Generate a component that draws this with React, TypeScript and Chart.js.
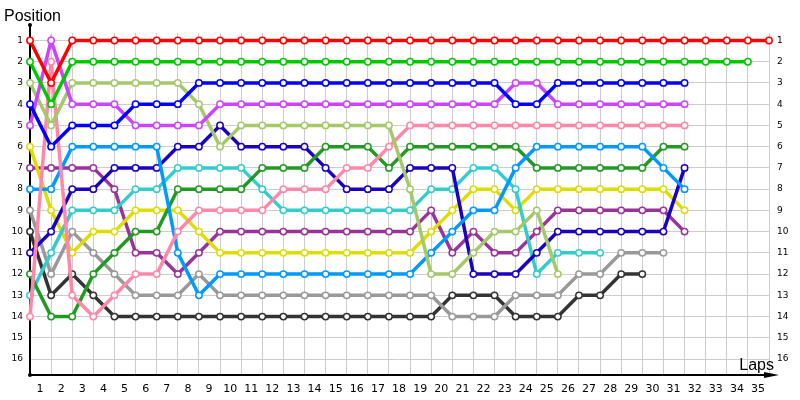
import React, { useEffect, useRef } from "react";
import { Chart, registerables } from "chart.js";

Chart.register(...registerables);

const lapTicks = [0, 1, 2, 3, 4, 5, 6, 7, 8, 9, 10, 11, 12, 13, 14, 15, 16, 17, 18, 19, 20, 21, 22, 23, 24, 25, 26, 27, 28, 29, 30, 31, 32, 33, 34, 35];
const positionTicks = [1, 2, 3, 4, 5, 6, 7, 8, 9, 10, 11, 12, 13, 14, 15, 16];

// positions per lap, starting at lap 0 (grid)
const redPos = [1, 3, 1, 1, 1, 1, 1, 1, 1, 1, 1, 1, 1, 1, 1, 1, 1, 1, 1, 1, 1, 1, 1, 1, 1, 1, 1, 1, 1, 1, 1, 1, 1, 1, 1, 1];
const greenPos = [2, 4, 2, 2, 2, 2, 2, 2, 2, 2, 2, 2, 2, 2, 2, 2, 2, 2, 2, 2, 2, 2, 2, 2, 2, 2, 2, 2, 2, 2, 2, 2, 2, 2, 2];
const bluePos = [4, 6, 5, 5, 5, 4, 4, 4, 3, 3, 3, 3, 3, 3, 3, 3, 3, 3, 3, 3, 3, 3, 3, 4, 4, 3, 3, 3, 3, 3, 3, 3];
const violetPos = [5, 1, 4, 4, 4, 5, 5, 5, 5, 4, 4, 4, 4, 4, 4, 4, 4, 4, 4, 4, 4, 4, 4, 3, 3, 4, 4, 4, 4, 4, 4, 4];
const limePos = [3, 5, 3, 3, 3, 3, 3, 3, 4, 6, 5, 5, 5, 5, 5, 5, 5, 5, 8, 12, 12, 11, 10, 10, 9, 12];
const pinkPos = [14, 2, 13, 14, 13, 12, 12, 10, 9, 9, 9, 9, 8, 8, 8, 7, 7, 6, 5, 5, 5, 5, 5, 5, 5, 5, 5, 5, 5, 5, 5, 5];
const azurePos = [8, 8, 6, 6, 6, 6, 6, 11, 13, 12, 12, 12, 12, 12, 12, 12, 12, 12, 12, 11, 10, 9, 9, 7, 6, 6, 6, 6, 6, 6, 7, 8];
const darkGreenPos = [12, 14, 14, 12, 11, 10, 10, 8, 8, 8, 8, 7, 7, 7, 6, 6, 6, 7, 6, 6, 6, 6, 6, 6, 7, 7, 7, 7, 7, 7, 6, 6];
const navyPos = [11, 10, 8, 8, 7, 7, 7, 6, 6, 5, 6, 6, 6, 6, 7, 8, 8, 8, 7, 7, 7, 12, 12, 12, 11, 10, 10, 10, 10, 10, 10, 7];
const cyanPos = [13, 11, 9, 9, 9, 8, 8, 7, 7, 7, 7, 8, 9, 9, 9, 9, 9, 9, 9, 8, 8, 7, 7, 8, 12, 11, 11, 11];
const yellowPos = [6, 9, 11, 10, 10, 9, 9, 9, 10, 11, 11, 11, 11, 11, 11, 11, 11, 11, 11, 10, 9, 8, 8, 9, 8, 8, 8, 8, 8, 8, 8, 9];
const purplePos = [7, 7, 7, 7, 8, 11, 11, 12, 11, 10, 10, 10, 10, 10, 10, 10, 10, 10, 10, 9, 11, 10, 11, 11, 10, 9, 9, 9, 9, 9, 9, 10];
const greyPos = [9, 12, 10, 11, 12, 13, 13, 13, 12, 13, 13, 13, 13, 13, 13, 13, 13, 13, 13, 13, 14, 14, 14, 13, 13, 13, 12, 12, 11, 11, 11];
const blackPos = [10, 13, 12, 13, 14, 14, 14, 14, 14, 14, 14, 14, 14, 14, 14, 14, 14, 14, 14, 14, 13, 13, 13, 14, 14, 14, 13, 13, 12, 12];

const drivers = [
  { name: "Red", color: "#ff0000", data: redPos },
  { name: "Green", color: "#00c800", data: greenPos },
  { name: "Blue", color: "#0000ff", data: bluePos },
  { name: "Violet", color: "#cc44ff", data: violetPos },
  { name: "Lime", color: "#a3c96a", data: limePos },
  { name: "Pink", color: "#ff88a8", data: pinkPos },
  { name: "Azure", color: "#0099ff", data: azurePos },
  { name: "Dark green", color: "#229922", data: darkGreenPos },
  { name: "Navy", color: "#1a00c0", data: navyPos },
  { name: "Cyan", color: "#33cccc", data: cyanPos },
  { name: "Yellow", color: "#dddd00", data: yellowPos },
  { name: "Purple", color: "#993399", data: purplePos },
  { name: "Grey", color: "#999999", data: greyPos },
  { name: "Black", color: "#333333", data: blackPos },
];

const decorPlugin = {
  id: "decor",
  beforeDatasetsDraw(chart: any) {
    const { ctx, chartArea: ca } = chart;
    ctx.save();
    ctx.strokeStyle = "#000";
    ctx.fillStyle = "#000";
    ctx.lineWidth = 2;
    ctx.beginPath();
    ctx.moveTo(ca.left, 25);
    ctx.lineTo(ca.left, ca.bottom);
    ctx.lineTo(ca.right - 4, ca.bottom);
    ctx.stroke();
    ctx.beginPath();
    ctx.moveTo(ca.right + 10, ca.bottom);
    ctx.lineTo(ca.right - 5, ca.bottom - 3);
    ctx.lineTo(ca.right - 5, ca.bottom + 3);
    ctx.closePath();
    ctx.fill();
    ctx.beginPath();
    ctx.arc(ca.left, 25, 2, 0, Math.PI * 2);
    ctx.fill();
    ctx.beginPath();
    ctx.arc(ca.left, ca.bottom, 2, 0, Math.PI * 2);
    ctx.fill();
    ctx.restore();
  },
  afterDraw(chart: any) {
    const { ctx, chartArea: ca } = chart;
    ctx.save();
    ctx.fillStyle = "#000";
    ctx.font = '16px "Liberation Sans"';
    ctx.textBaseline = "alphabetic";
    ctx.textAlign = "left";
    ctx.fillText("Position", 4, 21);
    ctx.textAlign = "right";
    ctx.fillText("Laps", ca.right + 5, ca.bottom - 5);
    ctx.restore();
  },
};

export default function App() {
  const canvasRef = useRef<HTMLCanvasElement>(null);

  useEffect(() => {
    if (!canvasRef.current) return;
    const chart = new Chart(canvasRef.current, {
      type: "line",
      data: {
        datasets: drivers.map((d) => ({
          label: d.name,
          data: d.data.map((p, i) => ({ x: lapTicks[i], y: p })),
          borderColor: d.color,
          backgroundColor: d.color,
          borderWidth: 3.5,
          pointRadius: 3.2,
          pointBorderWidth: 1.5,
          pointBackgroundColor: "#ffffff",
          pointBorderColor: d.color,
          tension: 0,
          fill: false,
          clip: false as any,
        })),
      },
      options: {
        animation: false,
        responsive: false,
        devicePixelRatio: 1,
        layout: { padding: { top: 33, left: 0, right: 0, bottom: 0 } },
        plugins: { legend: { display: false }, tooltip: { enabled: false }, title: { display: false } },
        scales: {
          x: {
            type: "linear",
            position: "bottom",
            min: 0,
            max: 35,
            afterBuildTicks: (s: any) => {
              s.ticks = lapTicks.map((v) => ({ value: v }));
            },
            afterFit: (s: any) => {
              s.height = 25;
            },
            border: { display: false },
            grid: { color: "#cccccc", lineWidth: 1, drawTicks: false },
            ticks: {
              autoSkip: false,
              maxRotation: 0,
              padding: 8,
              labelOffset: -11,
              color: "#000",
              font: { family: "DejaVu Sans", size: 11 },
              callback: (v: any) => (v === 0 ? "" : String(v)),
            },
          },
          y: {
            type: "linear",
            position: "left",
            reverse: true,
            min: 0.65,
            max: 16.75,
            afterBuildTicks: (s: any) => {
              s.ticks = positionTicks.map((v) => ({ value: v }));
            },
            afterFit: (s: any) => {
              s.width = 30;
            },
            border: { display: false },
            grid: { color: "#cccccc", lineWidth: 1, drawTicks: false },
            ticks: {
              padding: 7,
              color: "#000",
              font: { family: "DejaVu Sans", size: 9 },
            },
          },
          y2: {
            type: "linear",
            position: "right",
            reverse: true,
            min: 0.65,
            max: 16.75,
            afterBuildTicks: (s: any) => {
              s.ticks = positionTicks.map((v) => ({ value: v }));
            },
            afterFit: (s: any) => {
              s.width = 31;
            },
            border: { display: false },
            grid: { display: false, drawTicks: false },
            ticks: {
              padding: 8,
              color: "#000",
              font: { family: "DejaVu Sans", size: 9 },
            },
          },
        },
      },
      plugins: [decorPlugin],
    });
    return () => chart.destroy();
  }, []);

  return (
    <div style={{ position: "absolute", left: 0, top: 0, width: 800, height: 400, background: "#fff" }}>
      <canvas ref={canvasRef} width={800} height={400} />
    </div>
  );
}
